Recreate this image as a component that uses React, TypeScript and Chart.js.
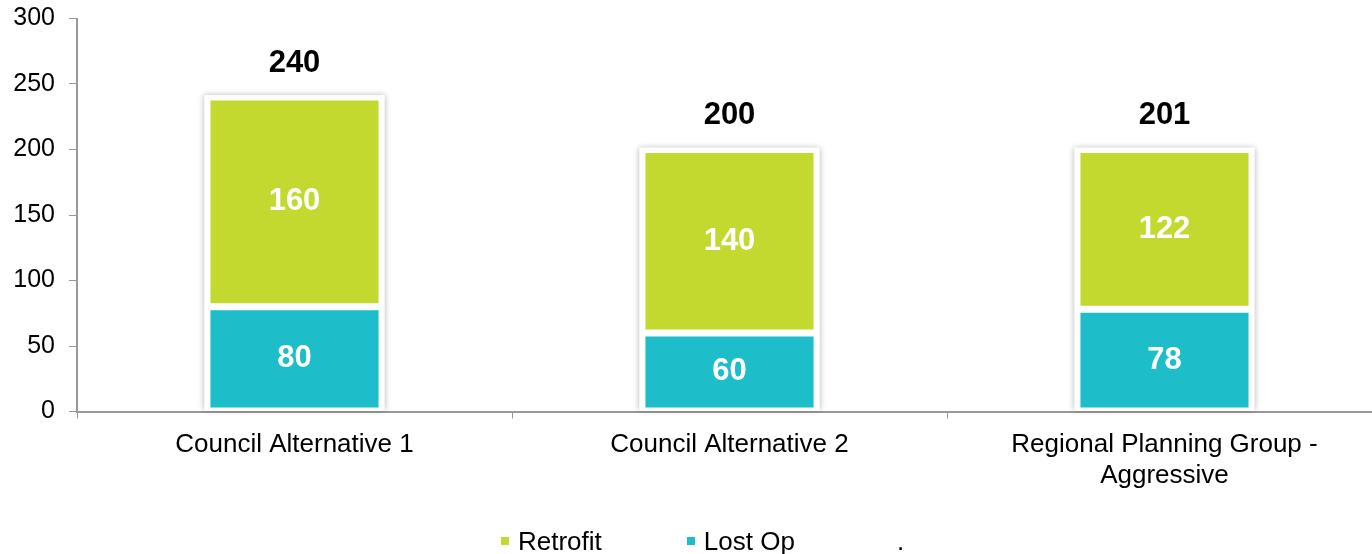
import React, { useEffect, useRef } from "react";
import { Chart, registerables } from "chart.js";

Chart.register(...registerables);

const categories: (string | string[])[] = [
  "Council Alternative 1",
  "Council Alternative 2",
  ["Regional Planning Group -", "Aggressive"],
];
const lostOp = [80, 60, 78];
const retrofit = [160, 140, 122];
const totals = [240, 200, 201];
const yTicks = [0, 50, 100, 150, 200, 250, 300];

const GREEN = "#C3D930";
const TEAL = "#1DBDCA";
const AXIS = "#999999";
const FONT = '"Liberation Sans", Arial, sans-serif';

const legendItems = [
  { label: "Retrofit", color: GREEN },
  { label: "Lost Op", color: TEAL },
  { label: ".", color: "transparent" },
];

const shadowPlugin = {
  id: "stackShadow",
  beforeDatasetsDraw(chart: any) {
    const ctx = chart.ctx;
    const metas = chart.data.datasets.map((_: any, i: number) => chart.getDatasetMeta(i));
    const n = chart.data.labels.length;
    ctx.save();
    ctx.shadowColor = "rgba(0,0,0,0.28)";
    ctx.shadowBlur = 6;
    ctx.fillStyle = "#ffffff";
    for (let i = 0; i < n; i++) {
      let top = Infinity;
      let bottom = -Infinity;
      let x = 0;
      let w = 0;
      metas.forEach((m: any) => {
        const el = m.data[i];
        if (!el) return;
        const p = el.getProps(["x", "y", "base", "width"], true);
        top = Math.min(top, p.y, p.base);
        bottom = Math.max(bottom, p.y, p.base);
        x = p.x;
        w = p.width;
      });
      ctx.fillRect(x - w / 2, top - 2, w, bottom - top + 1);
    }
    ctx.restore();
  },
};

const labelPlugin = {
  id: "valueLabels",
  afterDatasetsDraw(chart: any) {
    const ctx = chart.ctx;
    ctx.save();
    ctx.font = `bold 31px ${FONT}`;
    ctx.textAlign = "center";
    ctx.textBaseline = "middle";
    chart.data.datasets.forEach((ds: any, di: number) => {
      const meta = chart.getDatasetMeta(di);
      meta.data.forEach((el: any, i: number) => {
        const p = el.getProps(["x", "y", "base"], true);
        ctx.fillStyle = "#ffffff";
        ctx.fillText(String(ds.data[i]), p.x, (p.y + p.base) / 2);
      });
    });
    const last = chart.getDatasetMeta(chart.data.datasets.length - 1);
    last.data.forEach((el: any, i: number) => {
      const p = el.getProps(["x", "y"], true);
      ctx.fillStyle = "#000000";
      ctx.fillText(String(totals[i]), p.x, p.y - 34);
    });
    ctx.restore();
  },
};

export default function App() {
  const ref = useRef<HTMLCanvasElement | null>(null);

  useEffect(() => {
    if (!ref.current) return;
    const chart = new Chart(ref.current, {
      type: "bar",
      data: {
        labels: categories as any,
        datasets: [
          {
            label: "Lost Op",
            data: lostOp,
            backgroundColor: TEAL,
            borderColor: "#ffffff",
            borderWidth: { top: 3.5, bottom: 3.5, left: 6, right: 6 } as any,
            borderSkipped: false,
            barPercentage: 0.414,
            categoryPercentage: 1,
          },
          {
            label: "Retrofit",
            data: retrofit,
            backgroundColor: GREEN,
            borderColor: "#ffffff",
            borderWidth: { top: 3.5, bottom: 3.5, left: 6, right: 6 } as any,
            borderSkipped: false,
            barPercentage: 0.414,
            categoryPercentage: 1,
          },
        ],
      },
      options: {
        responsive: false,
        animation: false,
        devicePixelRatio: 1,
        layout: { padding: { top: 18.5, right: 4, bottom: 0, left: 0 } },
        plugins: {
          legend: { display: false },
          title: { display: false },
          tooltip: { enabled: false },
        },
        scales: {
          x: {
            stacked: true,
            grid: {
              display: true,
              drawOnChartArea: false,
              drawTicks: true,
              tickLength: 7,
              color: AXIS,
              offset: true,
            },
            border: { display: true, color: AXIS, width: 2 },
            ticks: {
              color: "#000000",
              font: { family: FONT, size: 26, lineHeight: 1.2 },
              padding: 11,
              maxRotation: 0,
              autoSkip: false,
            },
            afterFit(scale: any) {
              scale.height = 142.5;
              scale.paddingLeft = 0;
              scale.paddingRight = 0;
            },
          },
          y: {
            stacked: true,
            min: 0,
            max: 300,
            grid: {
              display: true,
              drawOnChartArea: false,
              drawTicks: true,
              tickLength: 8,
              color: AXIS,
            },
            border: { display: true, color: AXIS, width: 2 },
            afterBuildTicks(scale: any) {
              scale.ticks = yTicks.map((v) => ({ value: v }));
            },
            ticks: {
              color: "#000000",
              font: { family: FONT, size: 25 },
              padding: 14,
            },
            afterFit(scale: any) {
              scale.width = 77;
              scale.paddingTop = 0;
              scale.paddingBottom = 0;
            },
          },
        },
      },
      plugins: [shadowPlugin, labelPlugin],
    });
    return () => chart.destroy();
  }, []);

  return (
    <div
      style={{
        position: "fixed",
        left: 0,
        top: 0,
        width: 1372,
        height: 554,
        overflow: "hidden",
        background: "#ffffff",
      }}
    >
      <canvas
        ref={ref}
        width={1386}
        height={554}
        style={{ position: "absolute", left: 0, top: 0, width: 1386, height: 554 }}
      />
      <div
        style={{
          position: "absolute",
          left: 501,
          top: 527.5,
          display: "flex",
          alignItems: "center",
          gap: 85,
          fontFamily: FONT,
          fontSize: 26,
          lineHeight: "26px",
          color: "#000000",
          whiteSpace: "nowrap",
        }}
      >
        {legendItems.map((it) => (
          <div key={it.label} style={{ display: "flex", alignItems: "center" }}>
            <span
              style={{
                display: "inline-block",
                width: 8,
                height: 8,
                background: it.color,
                marginRight: 9,
              }}
            />
            <span>{it.label}</span>
          </div>
        ))}
      </div>
    </div>
  );
}
